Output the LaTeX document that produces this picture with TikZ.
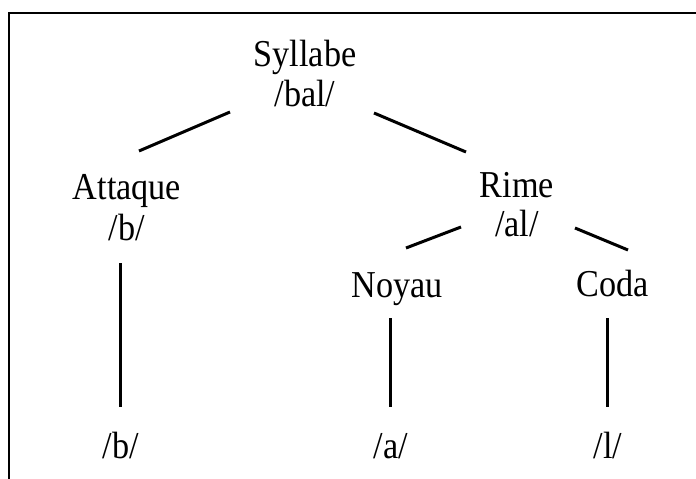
\documentclass[tikz,border=0pt]{standalone}
\usepackage{fontspec}
\setmainfont{Liberation Serif}
\newfontfamily\tallserif[FakeStretch=0.9]{Liberation Serif}
\begin{document}
\begin{tikzpicture}[x=1pt,y=1pt,
  lbl/.style={anchor=base,inner sep=0pt,font=\tallserif\fontsize{38}{42}\selectfont},
  branch/.style={line width=3pt}]
\useasboundingbox (0,0) rectangle (696,-479);
\draw[line width=2pt] (9,-479) -- (9,-13) -- (696,-13);
% labels
\node[lbl] (syl) at (305,-66) {Syllabe};
\node[lbl] (sylp) at (305,-106) {/bal/};
\node[lbl] (att) at (127,-199) {Attaque};
\node[lbl] (attp) at (127,-240) {/b/};
\node[lbl] (rime) at (517,-197) {Rime};
\node[lbl] (rimep) at (517,-236) {/al/};
\node[lbl] (noy) at (397,-297) {Noyau};
\node[lbl] (coda) at (613,-296) {Coda};
\node[lbl] (b) at (121,-458) {/b/};
\node[lbl] (a) at (391,-458) {/a/};
\node[lbl] (l) at (608,-458) {/l/};
% connector end points
\coordinate (s1) at (230,-112); \coordinate (a1) at (139,-151);
\coordinate (s2) at (374,-113); \coordinate (r1) at (466,-152);
\coordinate (r2) at (461,-227); \coordinate (n1) at (406,-248);
\coordinate (r3) at (575,-228); \coordinate (c1) at (628,-250);
\coordinate (a2) at (120,-263); \coordinate (b1) at (120,-407);
\coordinate (n2) at (390,-318); \coordinate (a3) at (390,-407);
\coordinate (c2) at (607,-318); \coordinate (l1) at (607,-407);
\draw[branch] (s1) -- (a1);
\draw[branch] (s2) -- (r1);
\draw[branch] (r2) -- (n1);
\draw[branch] (r3) -- (c1);
\draw[branch] (a2) -- (b1);
\draw[branch] (n2) -- (a3);
\draw[branch] (c2) -- (l1);
\end{tikzpicture}
\end{document}
